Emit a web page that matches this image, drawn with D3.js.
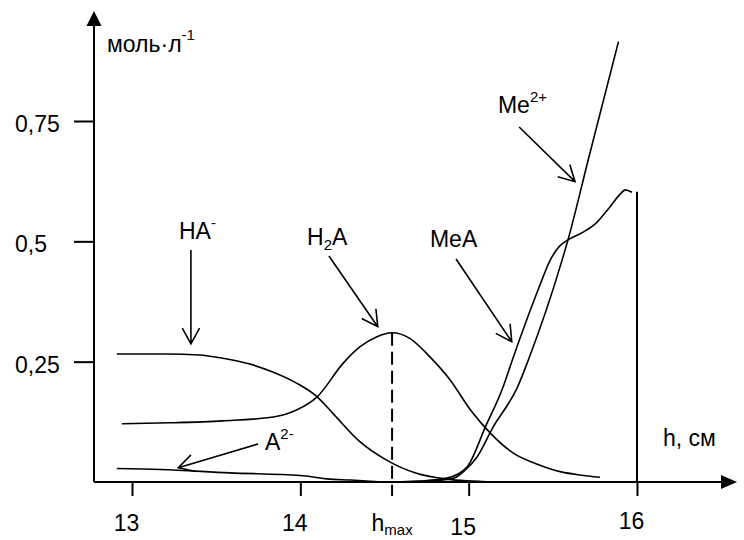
<!DOCTYPE html>
<html>
<head>
<meta charset="utf-8">
<script src="https://cdn.jsdelivr.net/npm/d3@7"></script>
<style>
  html, body { margin: 0; padding: 0; background: #fff; }
  svg { display: block; font-family: Arial, "Liberation Sans", sans-serif; }
</style>
</head>
<body>
<svg id="chart" width="744" height="540"></svg>
<script>
// concentration (моль/л) against height h (см)
const haMinus = [[12.91, 0.266], [13.2, 0.266], [13.4, 0.264], [13.54, 0.257], [13.70, 0.245],
  [13.84, 0.228], [13.98, 0.205], [14.10, 0.177], [14.2, 0.140], [14.35, 0.085],
  [14.51, 0.046], [14.69, 0.018], [14.87, 0.006], [15.15, 0]];
const h2a = [[12.94, 0.121], [13.23, 0.123], [13.54, 0.127], [13.84, 0.135], [13.98, 0.150],
  [14.10, 0.177], [14.255, 0.247], [14.355, 0.281], [14.455, 0.302], [14.545, 0.310],
  [14.65, 0.2985], [14.77, 0.260], [14.89, 0.212], [15.01, 0.150], [15.13, 0.101],
  [15.265, 0.060], [15.40, 0.038], [15.55, 0.021], [15.66, 0.0145], [15.78, 0.0098]];
const a2Minus = [[12.91, 0.028], [13.17, 0.026], [13.58, 0.019], [14.0, 0.0135],
  [14.16, 0.0065], [14.30, 0.004], [14.49, 0]];
const meA = [[14.55, 0], [14.71, 0.002], [14.87, 0.008], [14.99, 0.031], [15.10, 0.115],
  [15.205, 0.198], [15.26, 0.254], [15.42, 0.406], [15.48, 0.458], [15.54, 0.490],
  [15.59, 0.503], [15.68, 0.519], [15.76, 0.539], [15.84, 0.572], [15.90, 0.598],
  [15.93, 0.607], [15.97, 0.602]];
const meIon = [[14.545, 0], [14.77, 0.002], [14.91, 0.008], [14.98, 0.025], [15.05, 0.052],
  [15.145, 0.114], [15.29, 0.197], [15.355, 0.254], [15.555, 0.461], [15.59, 0.503],
  [15.71, 0.669], [15.89, 0.915]];

const xTicks = [13, 14, 15, 16];
const xTickLabels = ['13', '14', '15', '16'];
const yTicks = [0.25, 0.5, 0.75];
const yTickLabels = ['0,25', '0,5', '0,75'];
const hMax = 14.545;
const cPeak = 0.31;
const hEnd = 16;
const cEnd = 0.603;

const svg = d3.select('#chart');
const origin = { x: 94, y: 482 };

const x = d3.scaleLinear().domain([13, 16]).range([132, 637]);
const y = d3.scaleLinear().domain([0, 0.75]).range([origin.y, 121]);

const ink = '#000';
const fontSize = 23;
const smallSize = 15;

// axes with arrowheads
svg.append('line')
  .attr('x1', origin.x).attr('y1', origin.y)
  .attr('x2', origin.x).attr('y2', 22)
  .attr('stroke', ink).attr('stroke-width', 2);
svg.append('path')
  .attr('d', `M${origin.x},11 L${origin.x - 7.5},26 L${origin.x + 7.5},26 Z`)
  .attr('fill', ink);
svg.append('line')
  .attr('x1', origin.x).attr('y1', origin.y)
  .attr('x2', 726).attr('y2', origin.y)
  .attr('stroke', ink).attr('stroke-width', 2);
svg.append('path')
  .attr('d', `M737,${origin.y} L721,${origin.y - 7} L721,${origin.y + 7} Z`)
  .attr('fill', ink);

const yAxis = svg.append('g')
  .attr('transform', `translate(${origin.x},0)`)
  .call(d3.axisLeft(y).tickValues(yTicks).tickSize(20)
    .tickFormat((d, i) => yTickLabels[i]));
yAxis.select('.domain').remove();
yAxis.selectAll('line').attr('stroke', ink).attr('stroke-width', 2);
yAxis.selectAll('text')
  .attr('text-anchor', 'start')
  .attr('x', -79).attr('dy', '0.45em')
  .attr('font-size', fontSize).attr('font-family', 'Arial, "Liberation Sans", sans-serif')
  .attr('fill', ink);

const xAxis = svg.append('g')
  .attr('transform', `translate(0,${origin.y})`)
  .call(d3.axisBottom(x).tickValues(xTicks).tickSize(14)
    .tickFormat((d, i) => xTickLabels[i]));
xAxis.select('.domain').remove();
xAxis.selectAll('line').attr('stroke', ink).attr('stroke-width', 2);
xAxis.selectAll('text')
  .attr('x', -6)
  .attr('y', d => d === 15 ? 37 : (d === 16 ? 31 : 33))
  .attr('dy', '0.71em')
  .attr('font-size', fontSize).attr('font-family', 'Arial, "Liberation Sans", sans-serif')
  .attr('fill', ink);

// h_max label under the dashed tick
const hLabel = svg.append('text')
  .attr('x', x(hMax)).attr('y', 531)
  .attr('text-anchor', 'middle')
  .attr('font-size', fontSize).attr('fill', ink);
hLabel.append('tspan').text('h');
hLabel.append('tspan').attr('font-size', smallSize).attr('dy', 4).text('max');

// axis titles
const yTitle = svg.append('text')
  .attr('x', origin.x + 13).attr('y', 52)
  .attr('font-size', fontSize).attr('fill', ink);
yTitle.append('tspan').text('моль·л');
yTitle.append('tspan').attr('font-size', smallSize).attr('dy', -12).text('-1');

svg.append('text')
  .attr('x', 663).attr('y', 446)
  .attr('font-size', fontSize).attr('fill', ink)
  .text('h, см');

// curves
const line = d3.line()
  .x(d => x(d[0]))
  .y(d => y(d[1]))
  .curve(d3.curveMonotoneX);

[haMinus, h2a, a2Minus, meA, meIon].forEach(series => {
  svg.append('path')
    .datum(series)
    .attr('d', line)
    .attr('fill', 'none')
    .attr('stroke', ink)
    .attr('stroke-width', 1.6);
});

// dashed line at h_max and the drop line at h = 16
svg.append('line')
  .attr('x1', x(hMax)).attr('y1', y(cPeak))
  .attr('x2', x(hMax)).attr('y2', origin.y + 14)
  .attr('stroke', ink).attr('stroke-width', 2)
  .attr('stroke-dasharray', '13,6');
svg.append('line')
  .attr('x1', x(hEnd)).attr('y1', y(cEnd))
  .attr('x2', x(hEnd)).attr('y2', origin.y)
  .attr('stroke', ink).attr('stroke-width', 2);

// labelled arrows (label position, arrow start and arrow tip in data units)
const notes = [
  { parts: [['HA'], ['-', 'sup']], at: [13.279, 0.505], from: [13.35, 0.482], to: [13.35, 0.287] },
  { parts: [['H'], ['2', 'sub'], ['A']], at: [14.04, 0.492], from: [14.17, 0.4695], to: [14.46, 0.3227] },
  { parts: [['MeA']], at: [14.77, 0.488], from: [14.925, 0.4633], to: [15.256, 0.2915] },
  { parts: [['Me'], ['2+', 'sup']], at: [15.174, 0.7666], from: [15.30, 0.7375], to: [15.632, 0.624] },
  { parts: [['A'], ['2-', 'sup']], at: [13.79, 0.0665], from: [13.749, 0.079], to: [13.275, 0.0297] }
];

notes.forEach(n => {
  const t = svg.append('text')
    .attr('x', x(n.at[0])).attr('y', y(n.at[1]))
    .attr('font-size', fontSize).attr('fill', ink);
  let shift = 0;
  n.parts.forEach(([txt, kind]) => {
    const target = kind === 'sup' ? -11 : (kind === 'sub' ? 5 : 0);
    t.append('tspan')
      .attr('dy', target - shift)
      .attr('font-size', kind ? smallSize : fontSize)
      .text(txt);
    shift = target;
  });

  const x1 = x(n.from[0]), y1 = y(n.from[1]);
  const x2 = x(n.to[0]), y2 = y(n.to[1]);
  const ang = Math.atan2(y2 - y1, x2 - x1);
  const len = 18, spread = 0.5;
  const w1 = [x2 - len * Math.cos(ang - spread), y2 - len * Math.sin(ang - spread)];
  const w2 = [x2 - len * Math.cos(ang + spread), y2 - len * Math.sin(ang + spread)];
  svg.append('path')
    .attr('d', `M${x1},${y1} L${x2},${y2} M${w1[0]},${w1[1]} L${x2},${y2} L${w2[0]},${w2[1]}`)
    .attr('fill', 'none')
    .attr('stroke', ink)
    .attr('stroke-width', 1.6);
});
</script>
</body>
</html>
